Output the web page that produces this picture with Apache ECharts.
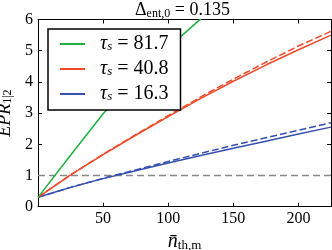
<!DOCTYPE html>
<html><head><meta charset="utf-8">
<script src="https://cdn.jsdelivr.net/npm/echarts@6/dist/echarts.min.js"></script>
<style>html,body{margin:0;padding:0;background:#fff}#c{width:332px;height:250px}</style>
</head><body><div id="c"></div>
<script>
const nGrid = [0, 25, 50, 75, 100, 125, 150, 175, 200, 225];
const nGreen = [0, 25, 50, 75, 100, 125];
const greenSolid = [0.3, 1.65, 2.98, 4.10, 5.10, 6.02];
const redSolid = [0.3, 1.02, 1.67, 2.29, 2.89, 3.47, 4.02, 4.54, 5.03, 5.50];
const redDashed = [0.3, 1.02, 1.68, 2.31, 2.92, 3.52, 4.09, 4.63, 5.15, 5.62];
const blueSolid = [0.3, 0.62, 0.90, 1.15, 1.40, 1.64, 1.87, 2.10, 2.33, 2.55];
const blueDashed = [0.3, 0.62, 0.91, 1.18, 1.45, 1.71, 1.97, 2.21, 2.45, 2.69];
const refLine = [1, 1];
const refX = [0, 225];
const tauLabels = ['81.7', '40.8', '16.3'];
const titleValue = '0.135';

const SERIF = '"Liberation Serif", "DejaVu Serif", serif';
const pair = (xs, ys) => xs.map((x, i) => [x, ys[i]]);
const GREEN = '#1fb040', RED = '#f04a2a', BLUE = '#3550b0';

const names = tauLabels.map(t => 'τs = ' + t);
const chart = echarts.init(document.getElementById('c'));
const axisCommon = {
  type: 'value',
  axisLine: {show: true, onZero: false, lineStyle: {color: '#000', width: 1}},
  axisTick: {show: true, inside: true, length: 4, lineStyle: {color: '#000'}},
  splitLine: {show: false}
};
chart.setOption({
  animation: false,
  title: {
    text: '{a|Δ}{s|ent,0}{a| = ' + titleValue + '}',
    left: 130, top: -5,
    textStyle: {fontWeight: 'normal', rich: {
      a: {fontFamily: SERIF, fontWeight: 'normal', fontSize: 18, color: '#000', lineHeight: 20},
      s: {fontFamily: SERIF, fontWeight: 'normal', fontSize: 12, color: '#000', lineHeight: 11, verticalAlign: 'bottom'}
    }}
  },
  grid: {left: 38, right: 1, top: 19.5, bottom: 43.3, outerBoundsMode: 'none', containLabel: false},
  legend: {
    orient: 'vertical',
    left: 48, top: 29,
    padding: [5, 12, 6, 12],
    icon: 'rect',
    itemWidth: 25, itemHeight: 2, itemGap: 5,
    backgroundColor: '#fff',
    borderColor: '#000', borderWidth: 1.5, borderRadius: 0,
    data: names,
    formatter: function (name) {
      const v = name.split('= ')[1];
      return '{g|}{t|τ}{s|s}{n| = ' + v + '}';
    },
    textStyle: {
      rich: {
        g: {width: 10, lineHeight: 18},
        t: {fontFamily: SERIF, fontStyle: 'italic', fontSize: 20, color: '#000', lineHeight: 18},
        s: {fontFamily: SERIF, fontStyle: 'italic', fontSize: 13, color: '#000', lineHeight: 10, verticalAlign: 'bottom'},
        n: {fontFamily: SERIF, fontSize: 20, color: '#000', lineHeight: 18}
      }
    }
  },
  xAxis: [
    Object.assign({}, axisCommon, {
      min: 0, max: 225, interval: 50, position: 'bottom',
      name: '{n|n̄}{s|th,m}', nameLocation: 'middle', nameGap: 25,
      nameTextStyle: {rich: {
        n: {fontFamily: SERIF, fontStyle: 'italic', fontSize: 20, color: '#000', lineHeight: 20},
        s: {fontFamily: SERIF, fontSize: 13, color: '#000', lineHeight: 10, verticalAlign: 'bottom'}
      }},
      axisLabel: {showMinLabel: false, showMaxLabel: false, margin: 4, fontFamily: SERIF, fontSize: 16, color: '#000'}
    }),
    Object.assign({}, axisCommon, {
      min: 0, max: 225, interval: 50, position: 'top',
      axisLabel: {show: false}
    })
  ],
  yAxis: [
    Object.assign({}, axisCommon, {
      min: 0, max: 6, interval: 1, position: 'left',
      name: '{e|EPR}{s|1|2}', nameLocation: 'middle', nameGap: 21, nameRotate: 90,
      nameTextStyle: {rich: {
        e: {fontFamily: SERIF, fontStyle: 'italic', fontSize: 18, color: '#000', lineHeight: 18},
        s: {fontFamily: SERIF, fontSize: 12, color: '#000', lineHeight: 10, verticalAlign: 'bottom'}
      }},
      axisLabel: {margin: 5, fontFamily: SERIF, fontSize: 16, color: '#000'}
    }),
    Object.assign({}, axisCommon, {
      min: 0, max: 6, interval: 1, position: 'right',
      axisLabel: {show: false}
    })
  ],
  series: [
    {name: 'ref', type: 'line', data: pair(refX, refLine), symbol: 'none', z: 1,
     lineStyle: {color: '#888', width: 1.3, type: [7, 4]}},
    {name: 'blueDashed', type: 'line', data: pair(nGrid, blueDashed), symbol: 'none',
     lineStyle: {color: BLUE, width: 1.5, type: [7, 3]}},
    {name: names[2], type: 'line', data: pair(nGrid, blueSolid), symbol: 'none',
     itemStyle: {color: BLUE}, lineStyle: {color: BLUE, width: 1.5}},
    {name: 'redDashed', type: 'line', data: pair(nGrid, redDashed), symbol: 'none',
     lineStyle: {color: RED, width: 1.5, type: [7, 3]}},
    {name: names[1], type: 'line', data: pair(nGrid, redSolid), symbol: 'none',
     itemStyle: {color: RED}, lineStyle: {color: RED, width: 1.5}},
    {name: names[0], type: 'line', data: pair(nGreen, greenSolid), symbol: 'none',
     itemStyle: {color: GREEN}, lineStyle: {color: GREEN, width: 1.5}}
  ]
});
</script></body></html>
